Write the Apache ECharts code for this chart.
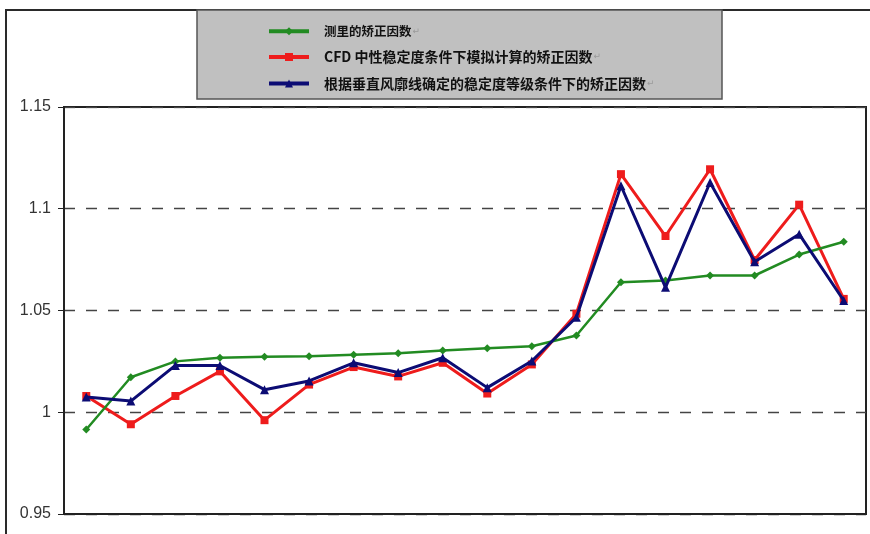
<!DOCTYPE html>
<html>
<head>
<meta charset="utf-8">
<script src="https://cdn.jsdelivr.net/npm/echarts@6/dist/echarts.min.js"></script>
<style>
  html, body { margin: 0; padding: 0; background: #ffffff; }
  #chart { width: 870px; height: 534px; }
</style>
</head>
<body>
<div id="chart"></div>
<script>
// Site index (18 positions along the x axis, unlabelled)
const categories = ['1','2','3','4','5','6','7','8','9','10','11','12','13','14','15','16','17','18'];

// Series names
const nameMeasured = '测里的矫正因数';
const nameCFD = 'CFD 中性稳定度条件下模拟计算的矫正因数';
const nameProfile = '根据垂直风廓线确定的稳定度等级条件下的矫正因数';

// Correction factors
const measured = [0.9915, 1.0172, 1.0250, 1.0268, 1.0273, 1.0275, 1.0283, 1.0290, 1.0304, 1.0315, 1.0324, 1.0377, 1.0639, 1.0647, 1.0672, 1.0672, 1.0775, 1.0838];
const cfdNeutral = [1.0080, 0.9941, 1.0080, 1.0201, 0.9961, 1.0136, 1.0222, 1.0176, 1.0243, 1.0092, 1.0235, 1.0484, 1.1170, 1.0866, 1.1194, 1.0748, 1.1020, 1.0557];
const profileClass = [1.0075, 1.0055, 1.0230, 1.0230, 1.0111, 1.0154, 1.0243, 1.0195, 1.0268, 1.0121, 1.0252, 1.0467, 1.1113, 1.0614, 1.1129, 1.0740, 1.0875, 1.0549];

// Y axis range and tick step
const yMin = 0.95, yMax = 1.15, yStep = 0.05;

const chart = echarts.init(document.getElementById('chart'));

const legendStyles = {};
legendStyles[nameMeasured] = 'a';
legendStyles[nameCFD] = 'b';
legendStyles[nameProfile] = 'b';

chart.setOption({
  animation: false,
  backgroundColor: '#ffffff',
  graphic: [
    {
      type: 'rect', z: -10, silent: true,
      shape: { x: 6, y: 10, width: 900, height: 600 },
      style: { fill: 'none', stroke: '#2a2a2a', lineWidth: 2 }
    },
    {
      type: 'rect', z: -5, silent: true,
      shape: { x: 197, y: 10, width: 525, height: 89 },
      style: { fill: '#c0c0c0', stroke: '#555555', lineWidth: 1.5 }
    }
  ],
  legend: {
    orient: 'vertical',
    left: 262,
    top: 20,
    itemWidth: 40,
    itemHeight: 10,
    itemGap: 12.5,
    data: [nameMeasured, nameCFD, nameProfile],
    lineStyle: { width: 4 },
    formatter: function (name) {
      return '{' + legendStyles[name] + '|' + name + '}{m|↵}';
    },
    textStyle: {
      padding: [0, 0, 0, 10],
      rich: {
        a: { fontFamily: 'Noto Sans CJK SC', fontWeight: 'bold', fontSize: 12.5, color: '#111', lineHeight: 16 },
        b: { fontFamily: 'Noto Sans CJK SC', fontWeight: 'bold', fontSize: 14, color: '#111', lineHeight: 16 },
        m: { fontFamily: 'DejaVu Sans', fontSize: 9, color: '#9a9a9a', lineHeight: 16, padding: [0, 0, 0, 1] }
      }
    }
  },
  grid: {
    left: 64,
    right: 4,
    top: 107,
    bottom: 20,
    show: true,
    borderColor: '#222222',
    borderWidth: 2,
    backgroundColor: 'transparent'
  },
  xAxis: {
    type: 'category',
    data: categories,
    boundaryGap: true,
    axisLine: { show: true, lineStyle: { color: '#222222', width: 2 } },
    axisTick: { show: false },
    axisLabel: { show: false },
    splitLine: { show: false }
  },
  yAxis: {
    type: 'value',
    min: yMin,
    max: yMax,
    interval: yStep,
    axisLine: { show: true, lineStyle: { color: '#222222', width: 2 } },
    axisTick: { show: true, length: 6, lineStyle: { color: '#222222', width: 1 } },
    axisLabel: {
      margin: 13,
      fontFamily: 'Liberation Sans',
      fontSize: 16,
      color: '#333333'
    },
    splitLine: {
      show: true,
      lineStyle: { color: '#444444', width: 1.3, type: [11, 11] }
    }
  },
  series: [
    {
      name: nameMeasured,
      type: 'line',
      data: measured,
      symbol: 'diamond',
      symbolSize: 8,
      z: 3,
      lineStyle: { color: '#228b22', width: 2.5 },
      itemStyle: { color: '#228b22' }
    },
    {
      name: nameCFD,
      type: 'line',
      data: cfdNeutral,
      symbol: 'rect',
      symbolSize: 8,
      z: 2,
      lineStyle: { color: '#ee1c1c', width: 3 },
      itemStyle: { color: '#ee1c1c' }
    },
    {
      name: nameProfile,
      type: 'line',
      data: profileClass,
      symbol: 'triangle',
      symbolSize: 9,
      z: 4,
      lineStyle: { color: '#0c0c74', width: 3 },
      itemStyle: { color: '#0c0c74' }
    }
  ]
});
</script>
</body>
</html>
